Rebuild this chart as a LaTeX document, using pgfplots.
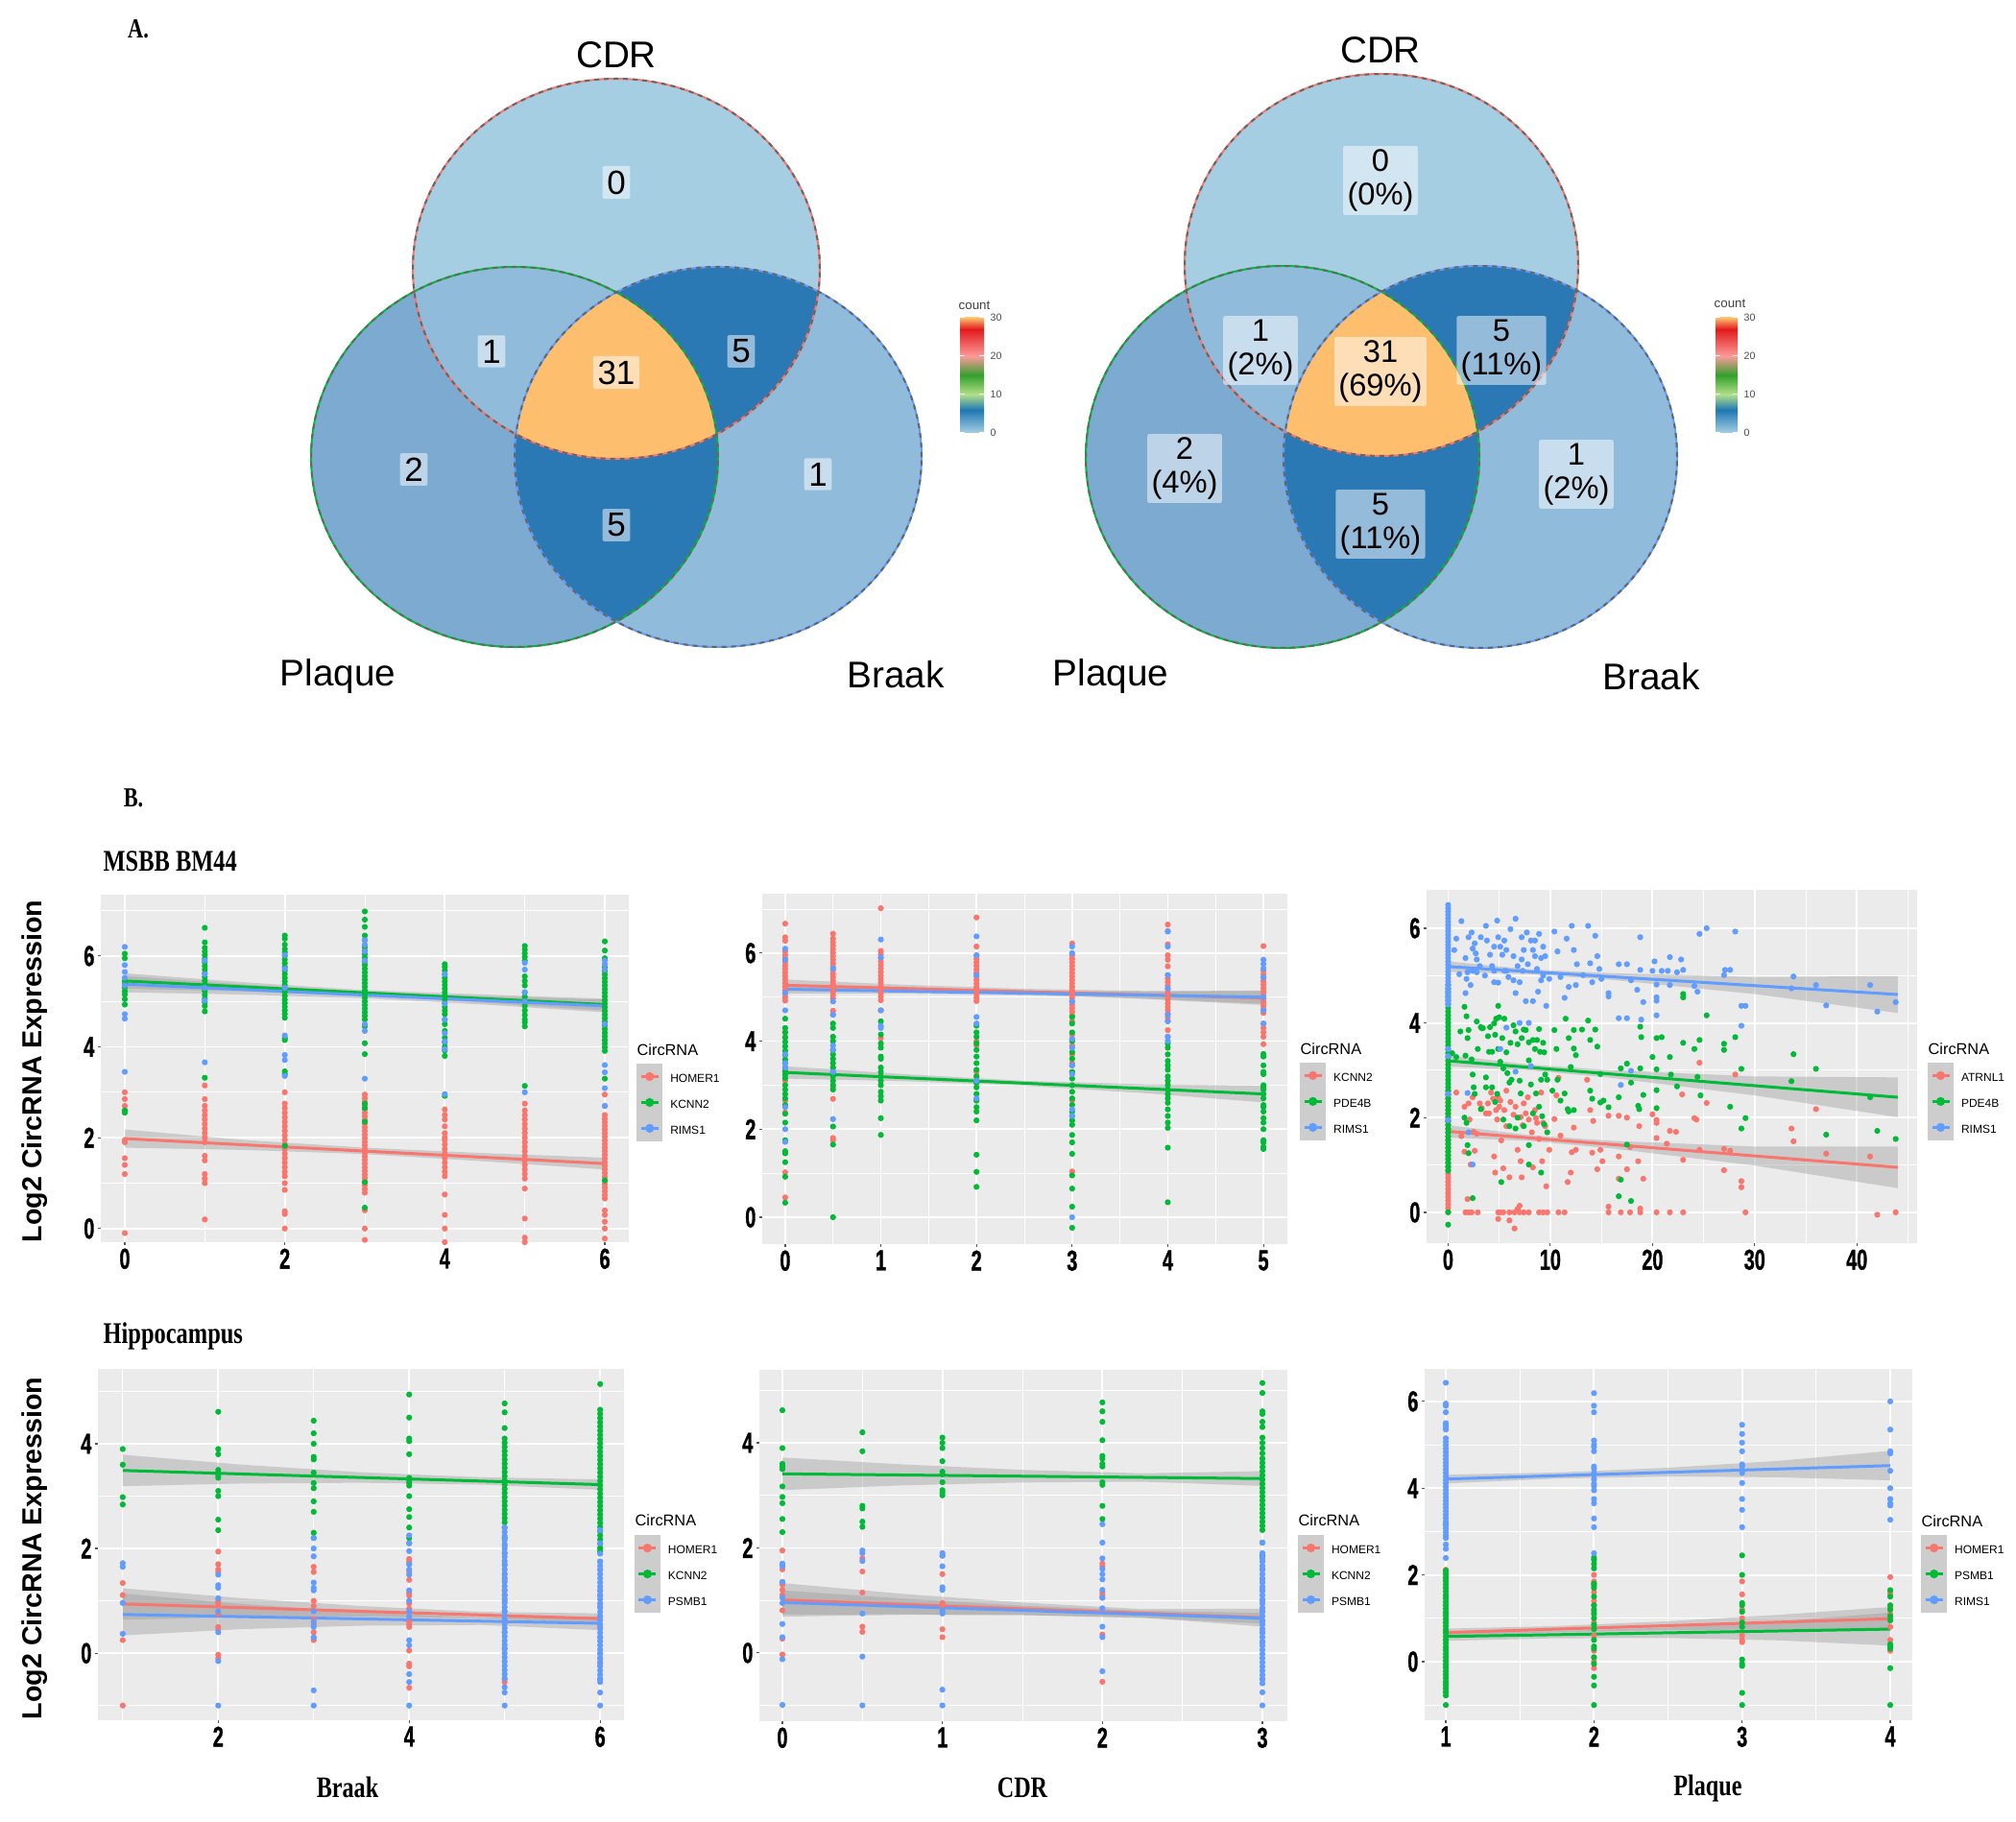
\documentclass[border=0pt]{standalone}
\usepackage{fontspec}
\setmainfont{Liberation Sans}
\newfontfamily\snarrow{Liberation Serif Bold}[FakeStretch=0.78]
\newfontfamily\tnarrow{Liberation Sans Bold}[FakeStretch=0.66, FakeBold=1.0]
\newfontfamily\lsbold{Liberation Sans Bold}
\usepackage{pgfplots}
\pgfplotsset{compat=1.18}
\definecolor{ggred}{HTML}{F8766D}
\definecolor{gggreen}{HTML}{00BA38}
\definecolor{ggblue}{HTML}{619CFF}
\definecolor{ggbg}{HTML}{EBEBEB}
\definecolor{bandc}{HTML}{999999}
\definecolor{keybg}{HTML}{CDCDCD}
\definecolor{vc0}{HTML}{A6CEE3}
\definecolor{vc1}{HTML}{91BBDB}
\definecolor{vc2}{HTML}{7CAAD1}
\definecolor{vc5}{HTML}{2A79B5}
\definecolor{vc31}{HTML}{FDBE6E}
\definecolor{cbA}{HTML}{A6CEE3}
\definecolor{cbB}{HTML}{1F78B4}
\definecolor{cbC}{HTML}{B2DF8A}
\definecolor{cbD}{HTML}{33A02C}
\definecolor{cbE}{HTML}{FB9A99}
\definecolor{cbF}{HTML}{E31A1C}
\definecolor{cbG}{HTML}{FDBF6F}
\pgfplotsset{
  ggpanel/.style={
    scale only axis, anchor=north west,
    axis background/.style={fill=ggbg},
    axis line style={draw=none},
    tick pos=left,
    xmajorgrids, ymajorgrids, xminorgrids, yminorgrids,
    major grid style={white, line width=0.55pt},
    minor grid style={white, line width=0.28pt},
    tick align=outside, major tick length=1pt, minor tick length=0pt,
    tick style={black!65, line width=0.35pt},
    ticklabel style={font=\tnarrow\fontsize{9}{9}\selectfont, inner sep=0.8pt},
    /pgf/number format/assume math mode=true,
    legend cell align=left,
    legend image code/.code={
      \fill[keybg] (0pt,-2.4pt) rectangle (7.2pt,4.8pt);
      \draw[##1] (0.9pt,1.2pt) -- (6.3pt,1.2pt);
      \fill[##1] (3.6pt,1.2pt) circle (0.9pt);
    },
    legend style={draw=none, fill=none, anchor=north west, inner sep=0pt, outer sep=0pt,
      row sep=0pt, font=\fontsize{3.6}{3.6}\selectfont,
      nodes={inner sep=0pt, outer sep=0pt},
      /tikz/every odd column/.append style={column sep=2.4pt}},
  },
  pts/.style={only marks, mark=*, mark size=0.72pt, mark options={draw=none}, forget plot},
  band/.style={fill=bandc, fill opacity=0.4, draw=none, forget plot},
}
\begin{document}
\begin{tikzpicture}
\useasboundingbox (0pt,0pt) rectangle (630pt,569.4pt);
% ================= canvas: Venn diagrams and free text =================
\begin{axis}[at={(0pt,0pt)}, anchor=south west, scale only axis, width=630pt, height=569.4pt,
  xmin=0, xmax=2100, ymin=0, ymax=1898, y dir=reverse, axis lines=none, xtick=\empty, ytick=\empty, clip=false]
% ---- left Venn ----
\fill[vc0] (642,280) ellipse [x radius=63.6pt, y radius=59.4pt];
\fill[vc2] (536,476) ellipse [x radius=63.6pt, y radius=59.4pt];
\fill[vc1] (748,476) ellipse [x radius=63.6pt, y radius=59.4pt];
\begin{scope}
\clip (642,280) ellipse [x radius=63.6pt, y radius=59.4pt];
\fill[vc1] (536,476) ellipse [x radius=63.6pt, y radius=59.4pt];
\fill[vc5] (748,476) ellipse [x radius=63.6pt, y radius=59.4pt];
\end{scope}
\begin{scope}
\clip (536,476) ellipse [x radius=63.6pt, y radius=59.4pt];
\fill[vc5] (748,476) ellipse [x radius=63.6pt, y radius=59.4pt];
\end{scope}
\begin{scope}
\clip (642,280) ellipse [x radius=63.6pt, y radius=59.4pt];
\clip (536,476) ellipse [x radius=63.6pt, y radius=59.4pt];
\fill[vc31] (748,476) ellipse [x radius=63.6pt, y radius=59.4pt];
\end{scope}
\draw[ggred, line width=0.6pt] (642,280) ellipse [x radius=63.6pt, y radius=59.4pt];
\draw[gggreen, line width=0.6pt] (536,476) ellipse [x radius=63.6pt, y radius=59.4pt];
\draw[ggblue, line width=0.6pt] (748,476) ellipse [x radius=63.6pt, y radius=59.4pt];
\draw[black!60, line width=0.6pt, dash pattern=on 1.5pt off 1.5pt] (642,280) ellipse [x radius=63.6pt, y radius=59.4pt];
\draw[black!60, line width=0.6pt, dash pattern=on 1.5pt off 1.5pt] (536,476) ellipse [x radius=63.6pt, y radius=59.4pt];
\draw[black!60, line width=0.6pt, dash pattern=on 1.5pt off 1.5pt] (748,476) ellipse [x radius=63.6pt, y radius=59.4pt];
\begin{scope}[every node/.style={fill=white, fill opacity=0.5, text opacity=1, rounded corners=0.6pt, inner xsep=1.4pt, inner ysep=1.4pt, font=\fontsize{10.5}{10.5}\selectfont}]
\node at (642,190) {0};
\node at (512,366) {1};
\node at (642,388) {31};
\node at (772,366) {5};
\node at (431,489) {2};
\node at (642,547) {5};
\node at (852,494) {1};
\end{scope}
\node[font=\fontsize{11.6}{11.6}\selectfont] at (642,57) {CDR};
\node[font=\fontsize{11.6}{11.6}\selectfont] at (352,705) {Plaque};
\node[font=\fontsize{11.6}{11.6}\selectfont] at (933,703) {Braak};
% colour bar left
\shade[bottom color=cbA, top color=cbB] (1000,451) rectangle (1025,427);
\shade[bottom color=cbB, top color=cbC] (1000,427) rectangle (1025,411);
\shade[bottom color=cbC, top color=cbD] (1000,411) rectangle (1025,391);
\shade[bottom color=cbD, top color=cbE] (1000,391) rectangle (1025,371);
\shade[bottom color=cbE, top color=cbF] (1000,371) rectangle (1025,343);
\shade[bottom color=cbF, top color=cbG] (1000,343) rectangle (1025,331);
\draw[white, line width=0.3pt] (1000,331) -- (1005,331) (1020,331) -- (1025,331);
\draw[white, line width=0.3pt] (1000,371) -- (1005,371) (1020,371) -- (1025,371);
\draw[white, line width=0.3pt] (1000,411) -- (1005,411) (1020,411) -- (1025,411);
\draw[white, line width=0.3pt] (1000,451) -- (1005,451) (1020,451) -- (1025,451);
\node[anchor=west, inner sep=0pt, font=\fontsize{4}{4}\selectfont, text=black!75] at (998,318) {count};
\begin{scope}[every node/.style={anchor=west, inner sep=0pt, font=\fontsize{3.2}{3.2}\selectfont, text=black!70}]
\node at (1031,331) {30}; \node at (1031,371) {20}; \node at (1031,411) {10}; \node at (1031,451) {0};
\end{scope}
% ---- right Venn ----
\fill[vc0] (1439,276) ellipse [x radius=61.5pt, y radius=59.7pt];
\fill[vc2] (1336,476) ellipse [x radius=61.5pt, y radius=59.7pt];
\fill[vc1] (1542,476) ellipse [x radius=61.5pt, y radius=59.7pt];
\begin{scope}
\clip (1439,276) ellipse [x radius=61.5pt, y radius=59.7pt];
\fill[vc1] (1336,476) ellipse [x radius=61.5pt, y radius=59.7pt];
\fill[vc5] (1542,476) ellipse [x radius=61.5pt, y radius=59.7pt];
\end{scope}
\begin{scope}
\clip (1336,476) ellipse [x radius=61.5pt, y radius=59.7pt];
\fill[vc5] (1542,476) ellipse [x radius=61.5pt, y radius=59.7pt];
\end{scope}
\begin{scope}
\clip (1439,276) ellipse [x radius=61.5pt, y radius=59.7pt];
\clip (1336,476) ellipse [x radius=61.5pt, y radius=59.7pt];
\fill[vc31] (1542,476) ellipse [x radius=61.5pt, y radius=59.7pt];
\end{scope}
\draw[ggred, line width=0.6pt] (1439,276) ellipse [x radius=61.5pt, y radius=59.7pt];
\draw[gggreen, line width=0.6pt] (1336,476) ellipse [x radius=61.5pt, y radius=59.7pt];
\draw[ggblue, line width=0.6pt] (1542,476) ellipse [x radius=61.5pt, y radius=59.7pt];
\draw[black!60, line width=0.6pt, dash pattern=on 1.5pt off 1.5pt] (1439,276) ellipse [x radius=61.5pt, y radius=59.7pt];
\draw[black!60, line width=0.6pt, dash pattern=on 1.5pt off 1.5pt] (1336,476) ellipse [x radius=61.5pt, y radius=59.7pt];
\draw[black!60, line width=0.6pt, dash pattern=on 1.5pt off 1.5pt] (1542,476) ellipse [x radius=61.5pt, y radius=59.7pt];
\begin{scope}[every node/.style={fill=white, fill opacity=0.5, text opacity=1, rounded corners=0.6pt, inner xsep=1.3pt, inner ysep=1.2pt, align=center, font=\fontsize{9.8}{10.3}\selectfont}]
\node at (1438,188) {0\\(0\%)};
\node at (1313,365) {1\\(2\%)};
\node at (1438,387) {31\\(69\%)};
\node at (1564,365) {5\\(11\%)};
\node at (1234,488) {2\\(4\%)};
\node at (1438,546) {5\\(11\%)};
\node at (1642,494) {1\\(2\%)};
\end{scope}
\node[font=\fontsize{11.6}{11.6}\selectfont] at (1438,52) {CDR};
\node[font=\fontsize{11.6}{11.6}\selectfont] at (1157,705) {Plaque};
\node[font=\fontsize{11.6}{11.6}\selectfont] at (1720,705) {Braak};
% colour bar right
\shade[bottom color=cbA, top color=cbB] (1787,451) rectangle (1810,427);
\shade[bottom color=cbB, top color=cbC] (1787,427) rectangle (1810,411);
\shade[bottom color=cbC, top color=cbD] (1787,411) rectangle (1810,391);
\shade[bottom color=cbD, top color=cbE] (1787,391) rectangle (1810,371);
\shade[bottom color=cbE, top color=cbF] (1787,371) rectangle (1810,343);
\shade[bottom color=cbF, top color=cbG] (1787,343) rectangle (1810,331);
\draw[white, line width=0.3pt] (1787,331) -- (1792,331) (1805,331) -- (1810,331);
\draw[white, line width=0.3pt] (1787,371) -- (1792,371) (1805,371) -- (1810,371);
\draw[white, line width=0.3pt] (1787,411) -- (1792,411) (1805,411) -- (1810,411);
\draw[white, line width=0.3pt] (1787,451) -- (1792,451) (1805,451) -- (1810,451);
\node[anchor=west, inner sep=0pt, font=\fontsize{4}{4}\selectfont, text=black!75] at (1785,316) {count};
\begin{scope}[every node/.style={anchor=west, inner sep=0pt, font=\fontsize{3.2}{3.2}\selectfont, text=black!70}]
\node at (1816,331) {30}; \node at (1816,371) {20}; \node at (1816,411) {10}; \node at (1816,451) {0};
\end{scope}
% ---- free text ----
\node[font=\snarrow\fontsize{8.6}{8.6}\selectfont] at (144,30) {A.};
\node[font=\snarrow\fontsize{8.6}{8.6}\selectfont] at (139,831) {B.};
\node[anchor=west, inner sep=0pt, font=\snarrow\fontsize{9.4}{9.4}\selectfont] at (107,897) {MSBB BM44};
\node[anchor=west, inner sep=0pt, font=\snarrow\fontsize{9.4}{9.4}\selectfont] at (107,1392) {Hippocampus};
\node[rotate=90, font=\lsbold\fontsize{8.6}{8.6}\selectfont] at (36,1116) {Log2 CircRNA Expression};
\node[rotate=90, font=\lsbold\fontsize{8.6}{8.6}\selectfont] at (36,1613) {Log2 CircRNA Expression};
\node[font=\snarrow\fontsize{9.3}{9.3}\selectfont] at (362,1862) {Braak};
\node[font=\snarrow\fontsize{9.3}{9.3}\selectfont] at (1065,1862) {CDR};
\node[font=\snarrow\fontsize{9.3}{9.3}\selectfont] at (1779,1863) {Plaque};
\node[font=\snarrow\fontsize{5.2}{5.2}\selectfont] at (1170,1458) {0};
\begin{scope}[every node/.style={anchor=west, inner sep=0pt, font=\fontsize{4.9}{4.9}\selectfont}]
\node at (663,1094) {CircRNA};
\node at (1354,1093) {CircRNA};
\node at (2008,1093) {CircRNA};
\node at (661,1584) {CircRNA};
\node at (1352,1584) {CircRNA};
\node at (2001,1585) {CircRNA};
\end{scope}
\end{axis}
% ================= Panel 1: MSBB Braak =================
\begin{axis}[ggpanel, at={(31.5pt,289.8pt)}, width=165pt, height=108.6pt,
  xmin=-0.3, xmax=6.3, ymin=-0.3, ymax=7.35,
  xtick={0,2,4,6}, minor xtick={1,3,5}, ytick={0,2,4,6}, minor ytick={1,3,5,7},
  legend style={at={(1.015,0.514)}}]
\addplot[pts, ggred] coordinates {(0,3.0)(0,2.85)(0,2.7)(0,2.6)(0,1.95)(0,1.9)(0,1.55)(0,1.4)(0,1.2)(0,-0.1)
(1,3.15)(1,2.85)(1,2.7)(1,2.6)(1,2.5)(1,2.4)(1,2.3)(1,2.2)(1,2.1)(1,2.0)(1,1.9)(1,1.6)(1,1.5)(1,1.2)(1,1.1)(1,1.0)(1,0.2)
(2,3.0)(2,2.75)(2,2.65)(2,2.55)(2,2.45)(2,2.35)(2,2.25)(2,2.15)(2,2.05)(2,1.95)(2,1.85)(2,1.75)(2,1.65)(2,1.55)(2,1.45)(2,1.35)(2,1.25)(2,1.15)(2,1.0)(2,0.85)(2,0.38)(2,0.32)(2,0.0)
(3,2.95)(3,2.87)(3,2.79)(3,2.71)(3,2.63)(3,2.55)(3,2.47)(3,2.39)(3,2.31)(3,2.23)(3,2.15)(3,2.07)(3,1.99)(3,1.91)(3,1.83)(3,1.75)(3,1.67)(3,1.59)(3,1.51)(3,1.43)(3,1.35)(3,1.27)(3,1.19)(3,1.11)(3,1.03)(3,0.95)(3,0.87)(3,0.79)(3,0.4)(3,0.0)(3,-0.25)
(4,2.62)(4,2.5)(4,2.4)(4,2.25)(4,2.1)(4,2.0)(4,1.95)(4,1.85)(4,1.75)(4,1.65)(4,1.55)(4,1.45)(4,1.35)(4,1.25)(4,1.15)(4,0.75)(4,0.3)(4,0.0)(4,-0.3)
(5,2.75)(5,2.6)(5,2.5)(5,2.4)(5,2.3)(5,2.2)(5,2.1)(5,2.0)(5,1.9)(5,1.8)(5,1.7)(5,1.6)(5,1.5)(5,1.4)(5,1.3)(5,1.2)(5,1.1)(5,0.88)(5,0.22)(5,-0.2)(5,-0.3)
(6,2.95)(6,2.7)(6,2.5)(6,2.42)(6,2.34)(6,2.26)(6,2.18)(6,2.1)(6,2.02)(6,1.94)(6,1.86)(6,1.78)(6,1.7)(6,1.62)(6,1.54)(6,1.46)(6,1.38)(6,1.3)(6,1.22)(6,1.14)(6,1.06)(6,0.98)(6,0.9)(6,0.82)(6,0.74)(6,0.66)(6,0.4)(6,0.3)(6,0.15)(6,0.0)(6,-0.22)};
\addplot[pts, gggreen] coordinates {(0,6.05)(0,5.95)(0,5.45)(0,5.38)(0,5.3)(0,5.22)(0,5.15)(0,5.05)(0,4.93)(0,2.6)(0,2.55)
(1,6.62)(1,6.3)(1,6.18)(1,6.1)(1,6.02)(1,5.94)(1,5.86)(1,5.78)(1,5.7)(1,5.62)(1,5.54)(1,5.46)(1,5.38)(1,5.3)(1,5.22)(1,5.14)(1,5.06)(1,4.98)(1,4.9)(1,4.78)(1,3.32)
(2,6.45)(2,6.38)(2,6.25)(2,6.15)(2,6.08)(2,6.0)(2,5.92)(2,5.84)(2,5.76)(2,5.68)(2,5.6)(2,5.52)(2,5.44)(2,5.36)(2,5.28)(2,5.2)(2,5.12)(2,5.04)(2,4.96)(2,4.88)(2,4.8)(2,4.72)(2,4.64)(2,4.2)(2,4.15)(2,3.46)(2,3.4)(2,1.82)
(3,6.98)(3,6.8)(3,6.64)(3,6.45)(3,6.35)(3,6.2)(3,6.12)(3,6.04)(3,5.96)(3,5.88)(3,5.8)(3,5.72)(3,5.64)(3,5.56)(3,5.48)(3,5.4)(3,5.32)(3,5.24)(3,5.16)(3,5.08)(3,5.0)(3,4.92)(3,4.84)(3,4.76)(3,4.68)(3,4.6)(3,4.45)(3,4.08)(3,3.84)(3,2.75)(3,2.65)(3,2.35)(3,1.02)(3,0.46)
(4,5.82)(4,5.76)(4,5.68)(4,5.6)(4,5.52)(4,5.44)(4,5.36)(4,5.28)(4,5.2)(4,5.12)(4,5.04)(4,4.96)(4,4.88)(4,4.8)(4,4.72)(4,4.6)(4,4.5)(4,4.35)(4,4.2)(4,4.1)(4,4.0)(4,3.92)(4,3.8)(4,2.92)
(5,6.22)(5,6.14)(5,6.06)(5,5.98)(5,5.9)(5,5.55)(5,5.45)(5,5.35)(5,5.2)(5,5.1)(5,5.0)(5,4.9)(5,4.8)(5,4.7)(5,4.6)(5,4.54)(5,4.45)(5,3.14)
(6,6.32)(6,6.12)(6,5.95)(6,5.75)(6,5.67)(6,5.59)(6,5.51)(6,5.43)(6,5.35)(6,5.27)(6,5.19)(6,5.11)(6,5.03)(6,4.95)(6,4.87)(6,4.79)(6,4.71)(6,4.63)(6,4.55)(6,4.47)(6,4.39)(6,4.31)(6,4.23)(6,4.15)(6,4.07)(6,3.99)(6,3.91)(6,3.3)(6,1.06)};
\addplot[pts, ggblue] coordinates {(0,6.2)(0,5.8)(0,5.65)(0,5.52)(0,5.35)(0,4.72)(0,4.62)(0,3.45)
(1,5.9)(1,5.6)(1,5.3)(1,5.02)(1,3.66)
(2,6.02)(2,5.72)(2,5.3)(2,4.25)(2,3.82)(2,3.71)(2,3.36)
(3,6.35)(3,6.25)(3,6.1)(3,5.9)(3,4.5)(3,4.35)(3,3.3)
(4,5.6)(4,4.95)(4,4.6)(4,4.3)(4,4.12)(4,3.95)(4,2.96)
(5,5.85)(5,5.7)(5,5.2)(5,5.0)(5,3.0)
(6,5.9)(6,5.82)(6,5.7)(6,4.5)(6,3.6)(6,3.44)(6,3.09)(6,2.7)};
\addplot[band] coordinates {(0,2.18)(1.5,1.95)(3,1.78)(4.5,1.66)(6,1.56)(6,1.30)(4.5,1.48)(3,1.64)(1.5,1.73)(0,1.78)} --cycle;
\addplot[band] coordinates {(0,5.62)(1.5,5.42)(3,5.25)(4.5,5.15)(6,5.06)(6,4.80)(4.5,4.97)(3,5.13)(1.5,5.22)(0,5.28)} --cycle;
\addplot[band] coordinates {(0,5.56)(1.5,5.37)(3,5.21)(4.5,5.11)(6,5.04)(6,4.76)(4.5,4.93)(3,5.07)(1.5,5.15)(0,5.20)} --cycle;
\addplot[ggred, line width=0.9pt, mark=none] coordinates {(0,1.98)(6,1.43)}; \addlegendentry{HOMER1}
\addplot[gggreen, line width=0.9pt, mark=none] coordinates {(0,5.45)(6,4.93)}; \addlegendentry{KCNN2}
\addplot[ggblue, line width=0.9pt, mark=none] coordinates {(0,5.38)(6,4.90)}; \addlegendentry{RIMS1}
\end{axis}
% ================= Panel 2: MSBB CDR =================
\begin{axis}[ggpanel, at={(238.2pt,290.1pt)}, width=164.1pt, height=109.5pt,
  xmin=-0.24, xmax=5.25, ymin=-0.61, ymax=7.35,
  xtick={0,1,2,3,4,5}, minor xtick={0.5,1.5,2.5,3.5,4.5}, ytick={0,2,4,6}, minor ytick={1,3,5,7},
  legend style={at={(1.024,0.518)}}]
\addplot[pts, ggred] coordinates {(0,6.67)(0,6.36)(0,6.28)(0,6.04)(0,5.96)(0,5.88)(0,5.8)(0,5.72)(0,5.64)(0,5.56)(0,5.48)(0,5.4)(0,5.32)(0,5.24)(0,5.16)(0,5.08)(0,5.0)(0,4.92)(0,4.2)(0,4.1)(0,3.3)(0,3.1)(0,2.65)(0,2.38)(0,1.02)(0,0.45)
(0.5,6.44)(0.5,6.33)(0.5,6.25)(0.5,6.17)(0.5,6.09)(0.5,6.01)(0.5,5.93)(0.5,5.85)(0.5,5.77)(0.5,5.69)(0.5,5.61)(0.5,5.53)(0.5,5.45)(0.5,5.37)(0.5,5.29)(0.5,5.21)(0.5,5.13)(0.5,5.05)(0.5,4.97)(0.5,4.69)(0.5,4.6)(0.5,3.4)(0.5,2.95)(0.5,2.69)(0.5,1.8)(0.5,1.75)
(1,7.02)(1,6.05)(1,5.97)(1,5.89)(1,5.81)(1,5.73)(1,5.65)(1,5.57)(1,5.49)(1,5.41)(1,5.33)(1,5.25)(1,5.17)(1,5.09)(1,5.01)(1,4.93)(1,4.7)(1,4.07)
(2,6.81)(2,6.15)(2,5.95)(2,5.87)(2,5.79)(2,5.71)(2,5.63)(2,5.55)(2,5.47)(2,5.39)(2,5.31)(2,5.23)(2,5.15)(2,5.07)(2,4.99)(2,4.91)(2,4.0)(2,3.9)(2,3.3)(2,3.2)(2,2.65)
(3,6.22)(3,5.95)(3,5.87)(3,5.79)(3,5.71)(3,5.63)(3,5.55)(3,5.47)(3,5.39)(3,5.31)(3,5.23)(3,5.15)(3,5.07)(3,4.99)(3,4.91)(3,4.83)(3,4.75)(3,4.67)(3,4.59)(3,4.45)(3,4.15)(3,4.05)(3,3.9)(3,3.7)(3,3.5)(3,3.3)(3,2.65)(3,1.04)
(4,6.65)(4,6.5)(4,6.2)(4,5.95)(4,5.85)(4,5.7)(4,5.5)(4,5.42)(4,5.34)(4,5.26)(4,5.18)(4,5.1)(4,5.02)(4,4.94)(4,4.86)(4,4.78)(4,4.7)(4,4.62)(4,4.54)(4,4.46)(4,4.25)(4,4.1)
(5,6.16)(5,5.6)(5,5.52)(5,5.44)(5,5.36)(5,5.28)(5,5.2)(5,5.12)(5,5.04)(5,4.96)(5,4.88)(5,4.8)(5,4.72)(5,4.64)(5,4.4)(5,4.3)(5,4.2)(5,4.1)(5,3.93)};
\addplot[pts, gggreen] coordinates {(0,4.51)(0,4.3)(0,4.2)(0,4.08)(0,3.98)(0,3.88)(0,3.78)(0,3.68)(0,3.58)(0,3.5)(0,3.4)(0,3.32)(0,3.24)(0,3.16)(0,3.0)(0,2.9)(0,2.8)(0,2.7)(0,2.55)(0,2.35)(0,2.15)(0,1.75)(0,1.5)(0,1.45)(0,1.25)(0,0.92)(0,0.33)
(0.5,4.4)(0.5,4.3)(0.5,4.1)(0.5,4.0)(0.5,3.8)(0.5,3.7)(0.5,3.6)(0.5,3.5)(0.5,3.4)(0.5,3.3)(0.5,3.2)(0.5,3.1)(0.5,3.0)(0.5,2.9)(0.5,2.06)(0.5,1.65)(0.5,0.0)
(1,4.45)(1,4.15)(1,3.95)(1,3.85)(1,3.65)(1,3.6)(1,3.4)(1,3.3)(1,3.2)(1,3.1)(1,3.0)(1,2.85)(1,2.75)(1,2.65)(1,2.25)(1,1.87)
(2,4.35)(2,4.2)(2,4.1)(2,3.95)(2,3.8)(2,3.65)(2,3.5)(2,3.35)(2,3.2)(2,3.05)(2,2.95)(2,2.8)(2,2.65)(2,2.5)(2,2.4)(2,2.2)(2,1.42)(2,1.03)(2,0.69)
(3,4.55)(3,4.4)(3,4.2)(3,4.0)(3,3.75)(3,3.6)(3,3.45)(3,3.3)(3,3.15)(3,3.0)(3,2.85)(3,2.7)(3,2.55)(3,2.4)(3,2.3)(3,2.2)(3,2.1)(3,1.87)(3,1.7)(3,1.44)(3,0.95)(3,0.65)(3,0.24)(3,-0.24)
(4,3.95)(4,3.85)(4,3.7)(4,3.55)(4,3.45)(4,3.35)(4,3.2)(4,3.1)(4,3.0)(4,2.9)(4,2.8)(4,2.7)(4,2.6)(4,2.45)(4,2.3)(4,2.15)(4,2.03)(4,1.58)(4,0.34)
(5,3.71)(5,3.65)(5,3.45)(5,3.3)(5,3.25)(5,3.0)(5,2.95)(5,2.9)(5,2.8)(5,2.7)(5,2.55)(5,2.5)(5,2.4)(5,2.25)(5,2.15)(5,2.0)(5,1.75)(5,1.7)(5,1.6)(5,1.55)};
\addplot[pts, ggblue] coordinates {(0,6.1)(0,5.85)(0,5.1)(0,4.7)(0,3.7)(0,3.5)(0,3.4)(0,2.5)(0,2.0)(0,1.71)
(0.5,5.65)(0.5,4.9)(0.5,4.6)(0.5,3.9)(0.5,3.8)(0.5,3.3)(0.5,2.23)
(1,6.31)(1,5.9)(1,4.7)(1,4.35)(1,4.3)
(2,6.38)(2,5.95)(2,5.5)(2,4.55)(2,4.4)(2,3.1)(2,2.7)
(3,6.15)(3,6.0)(3,4.9)(3,4.05)(3,3.85)(3,3.45)(3,3.25)(3,2.45)(3,2.3)(3,0.0)
(4,6.49)(4,6.15)(4,5.5)(4,5.2)(4,4.6)(4,4.45)(4,4.1)(4,4.0)
(5,5.85)(5,5.75)(5,5.65)(5,5.45)(5,5.0)(5,4.7)(5,4.4)};
\addplot[band] coordinates {(0,5.40)(1.25,5.28)(2.5,5.19)(3.75,5.14)(5,5.14)(5,4.82)(3.75,4.96)(2.5,5.07)(1.25,5.12)(0,5.14)} --cycle;
\addplot[band] coordinates {(0,3.43)(1.25,3.25)(2.5,3.10)(3.75,3.02)(5,2.99)(5,2.61)(3.75,2.82)(2.5,2.99)(1.25,3.09)(0,3.15)} --cycle;
\addplot[band] coordinates {(0,5.28)(1.25,5.20)(2.5,5.14)(3.75,5.13)(5,5.15)(5,4.85)(3.75,4.97)(2.5,5.04)(1.25,5.08)(0,5.08)} --cycle;
\addplot[ggred, line width=0.9pt, mark=none] coordinates {(0,5.27)(5,4.98)}; \addlegendentry{KCNN2}
\addplot[gggreen, line width=0.9pt, mark=none] coordinates {(0,3.29)(5,2.80)}; \addlegendentry{PDE4B}
\addplot[ggblue, line width=0.9pt, mark=none] coordinates {(0,5.18)(5,5.00)}; \addlegendentry{RIMS1}
\end{axis}
% ================= Panel 3: MSBB Plaque =================
\begin{axis}[ggpanel, at={(445.8pt,291.3pt)}, width=153.3pt, height=110.4pt,
  xmin=-2.11, xmax=45.9, ymin=-0.65, ymax=6.81,
  xtick={0,10,20,30,40}, minor xtick={5,15,25,35,45}, ytick={0,2,4,6}, minor ytick={1,3,5},
  legend style={at={(1.0215,0.511)}}]
\addplot[pts, ggred] coordinates {(0,2.57)(0,2.49)(0,2.41)(0,2.33)(0,2.25)(0,2.17)(0,2.09)(0,2.01)(0,1.93)(0,1.85)(0,1.77)(0,1.69)(0,1.61)(0,1.53)(0,1.45)(0,1.37)(0,1.29)(0,1.21)(0,1.13)(0,1.05)(0,0.97)(0,0.89)(0,0.81)(0,0.73)(0,0.65)(0,0.57)(0,0.49)(0,0.41)(0,0.33)(0,0.25)(0,0.17)(0,0.09)(0,0.01)
(0.8,2.53)(1.3,1.61)(1.6,2.23)(1.6,1.28)(1.9,0.28)(2.0,2.3)(2.1,1.96)(2.2,1.01)(2.4,2.43)(2.5,1.7)(2.6,1.3)(2.8,1.66)(3.1,2.3)(3.3,2.2)(3.7,2.09)(3.9,2.3)(4.0,2.09)(4.2,2.53)(4.4,2.4)(4.5,1.18)(4.6,0.84)(4.7,2.16)(4.8,1.96)(4.9,2.43)(5.0,2.23)(5.1,2.36)(5.2,1.52)(5.4,0.93)(5.5,2.16)(5.7,2.57)(5.7,1.82)(6.0,0.74)(6.1,2.33)(6.4,2.06)(6.6,2.23)(6.8,1.32)(7.1,1.08)(7.1,2.01)(7.2,0.74)(7.3,1.84)(7.4,2.3)(7.6,2.09)(7.8,2.43)(7.9,1.96)(8.2,1.69)(8.3,0.95)(8.5,2.16)(8.6,1.99)(8.7,1.89)(8.9,1.55)(9.1,2.53)(9.2,1.08)(9.3,1.89)(9.5,1.82)(9.6,0.55)(9.9,1.32)(10.4,1.97)(10.6,2.47)(10.8,2.84)(11.0,1.62)(11.7,0.64)(12.0,0.84)(12.1,1.27)(12.3,1.79)(12.5,1.32)(13.6,2.8)(13.9,2.16)(14.1,1.26)(14.2,1.93)(14.6,0.91)(14.9,1.32)(15.1,1.08)
(1.7,0)(2.0,0)(2.3,0)(2.9,0)(4.9,0)(5.1,0)(5.4,0)(6.0,0)(6.5,0)(7.0,0)(7.4,0)(7.9,0)(8.9,0)(9.3,0)(9.7,0)(10.8,0)(11.4,0)(15.7,0)(16.9,0)(17.8,0)(18.8,0)(20.4,0)(21.7,0)(23.0,0)(29.1,0)(43.8,0)
(4.9,-0.14)(6.0,-0.17)(6.5,-0.34)(6.8,0.07)(7.0,0.14)(18.8,0.08)(15.7,0.12)(42.0,-0.05)
(15.7,2.04)(16.7,2.04)(17.5,2.0)(16.7,0.71)(16.7,1.18)(17.8,1.38)(17.5,0.91)(18.6,1.08)(18.7,1.82)(19.1,0.71)(20.0,2.07)(20.4,1.95)(20.4,1.57)(20.4,1.89)(21.4,1.45)(21.7,1.72)(22.3,1.7)(22.9,2.49)(23.0,1.11)(24.1,1.99)(24.3,1.96)(24.6,3.16)(25.3,2.31)(24.6,1.32)(27.0,0.89)(27.0,1.34)(27.6,1.3)(28.1,2.91)(28.7,0.66)(28.7,0.53)(33.6,1.77)(33.8,1.5)(36.0,2.18)(37.0,1.24)(41.3,1.18)};
\addplot[pts, gggreen] coordinates {(0,4.8)(0,4.72)(0,4.64)(0,4.56)(0,4.48)(0,4.4)(0,4.32)(0,4.24)(0,4.16)(0,4.08)(0,4.0)(0,3.92)(0,3.84)(0,3.76)(0,3.68)(0,3.6)(0,3.52)(0,3.44)(0,3.36)(0,3.28)(0,3.2)(0,3.12)(0,3.04)(0,2.96)(0,2.88)(0,2.8)(0,2.72)(0,2.64)(0,2.56)(0,2.48)(0,2.4)(0,2.32)(0,2.24)(0,2.16)(0,2.08)(0,2.0)(0,1.92)(0,1.84)(0,1.76)(0,1.68)(0,1.6)(0,1.52)(0,1.44)(0,1.36)(0,1.28)(0,1.2)(0,1.12)(0,1.04)(0,0.96)(0,0.88)(0,0.0)(0,-0.26)
(0.4,3.36)(0.8,3.28)(1.2,3.82)(1.6,4.34)(1.8,4.14)(1.9,3.68)(1.7,3.31)(2.0,3.85)(2.3,3.23)(2.4,2.91)(2.5,2.64)(2.8,4.03)(2.9,3.45)(3.2,3.91)(3.3,3.89)(3.4,3.89)(3.7,2.85)(3.9,3.72)(4.0,3.39)(4.1,3.91)(4.3,3.39)(4.5,3.99)(4.6,3.75)(4.7,4.09)(4.9,4.36)(4.9,3.45)(5.0,4.12)(5.1,3.18)(5.3,3.68)(5.4,3.04)(5.5,4.09)(5.7,3.38)(5.8,2.94)(6.0,2.74)(6.1,3.58)(6.2,2.8)(6.4,3.95)(6.6,3.82)(6.8,3.55)(7.0,2.78)(7.2,3.68)(7.4,3.86)(7.6,3.85)(7.9,3.59)(7.9,3.21)(8.1,2.7)(8.3,3.64)(8.5,3.45)(8.6,2.51)(8.7,3.64)(8.9,3.87)(9.0,3.39)(9.1,2.8)(9.3,3.58)(9.4,3.38)(9.5,2.91)(9.7,2.8)(10.4,3.85)(10.6,3.45)(10.7,2.8)(11.0,2.36)(11.4,2.51)(11.5,4.09)(11.7,2.18)(11.8,3.68)(12.0,3.07)(12.3,3.46)(12.3,3.85)(12.5,3.32)(13.1,3.86)(13.7,4.05)(13.9,3.64)(14.1,2.4)(14.4,3.86)(14.6,3.5)(14.9,2.92)(15.2,2.36)
(1.6,2.0)(1.8,1.89)(1.9,1.42)(2.0,1.25)(2.4,0.3)(2.6,2.5)(3.2,2.18)(3.7,2.64)(4.3,2.64)(4.6,2.33)(4.8,2.5)(5.2,0.64)(5.4,1.96)(6.0,1.82)(6.6,1.77)(6.8,2.0)(7.1,2.51)(7.4,1.82)(7.9,1.42)(7.9,1.01)(8.3,2.09)(8.9,2.23)(9.1,0.84)(9.2,2.03)(9.4,1.86)(9.7,1.69)(10.2,2.57)(11.8,2.13)(12.3,2.16)(13.9,2.57)(14.9,2.32)
(15.7,2.22)(16.7,2.43)(16.9,3.04)(17.5,3.14)(16.7,0.34)(16.9,0.69)(17.9,0.24)(17.5,1.43)(17.9,2.74)(18.6,2.25)(18.7,2.18)(18.8,3.04)(18.8,3.92)(18.9,3.7)(19.1,2.48)(20.0,3.28)(20.4,3.02)(20.4,2.58)(20.4,2.2)(20.4,3.68)(20.9,3.7)(21.7,3.28)(21.8,2.91)(22.4,2.66)(23.0,4.61)(23.0,4.54)(23.0,3.58)(24.1,3.45)(24.4,2.86)(24.6,3.64)(24.7,2.47)(25.3,4.16)(27.0,3.56)(27.0,3.43)(27.6,2.23)(28.1,3.7)(28.7,3.03)(28.7,1.77)(29.1,1.99)(33.6,2.77)(33.8,3.34)(36.0,3.03)(37.0,1.64)(41.3,2.43)(42.0,1.72)(43.8,1.55)};
\addplot[pts, ggblue] coordinates {(0,6.49)(0,6.42)(0,6.35)(0,6.28)(0,6.21)(0,6.14)(0,6.07)(0,6.0)(0,5.93)(0,5.86)(0,5.79)(0,5.72)(0,5.65)(0,5.58)(0,5.51)(0,5.44)(0,5.37)(0,5.3)(0,5.23)(0,5.16)(0,5.09)(0,5.02)(0,4.95)(0,4.88)(0,4.81)(0,4.74)(0,4.67)(0,4.6)(0,4.53)(0,4.46)(0,4.39)(0,3.45)(0,3.3)(0,2.5)(0,1.95)
(1.3,6.15)(0.8,5.78)(1.7,5.37)(2.0,5.81)(2.3,5.91)(2.4,5.57)(2.6,5.68)(2.8,5.34)(1.9,5.07)(2.2,4.8)(1.7,4.63)(3.7,6.05)(3.8,5.74)(4.1,5.44)(4.3,5.2)(4.5,4.86)(4.8,6.16)(4.9,5.81)(5.1,5.61)(5.3,5.44)(5.5,5.74)(5.7,5.1)(5.9,4.97)(6.4,5.41)(6.6,6.2)(6.8,5.2)(7.0,4.86)(7.2,5.34)(7.4,5.54)(7.7,5.91)(7.8,5.24)(8.1,5.74)(8.3,5.54)(8.5,5.74)(8.7,5.14)(8.9,5.88)(9.1,5.37)(9.3,5.0)(9.5,5.41)(9.6,4.36)(9.9,4.93)(10.4,5.93)(10.7,5.51)(11.0,4.97)(11.4,4.53)(11.6,5.78)(11.8,4.76)(12.1,6.05)(12.3,5.54)(12.5,4.8)(12.6,5.24)(13.2,5.01)(13.7,6.05)(13.9,5.26)(14.4,5.84)(14.6,5.41)(14.8,5.14)(14.1,4.86)(15.0,4.93)
(1.8,4.93)(2.4,5.1)(3.1,5.2)(3.6,5.0)(4.5,5.1)(4.9,4.85)(5.5,5.1)(6.4,4.9)(6.6,4.63)(7.3,5.1)(7.6,4.46)(8.3,4.46)(8.8,4.66)(9.1,4.9)(9.3,5.61)(7.2,5.81)(4.5,5.61)(2.8,5.07)(1.1,5.03)(0.6,5.54)(2.7,5.47)(3.2,5.81)(5.7,5.54)(8.5,5.41)(6.1,5.98)
(15.7,4.63)(15.7,4.56)(16.7,5.24)(16.7,4.1)(17.5,5.24)(17.5,4.1)(17.9,4.9)(18.5,4.7)(18.8,5.12)(18.8,5.81)(18.9,4.07)(19.1,4.44)(20.0,5.1)(20.2,5.3)(20.4,4.81)(20.4,4.54)(20.4,4.47)(20.4,4.16)(20.9,5.1)(21.5,5.1)(21.7,5.39)(21.7,4.8)(22.4,5.07)(22.8,5.34)(23.0,5.12)(24.1,4.78)(24.4,4.66)(24.6,5.88)(25.3,6.0)(27.0,5.01)(27.1,5.12)(27.6,5.12)(28.1,5.93)(28.7,4.36)(29.1,4.36)(28.7,3.94)(33.8,4.98)(33.6,4.73)(36.0,4.8)(37.0,4.37)(41.3,4.8)(42.0,4.24)(43.8,4.44)
(5.7,3.9)(7.0,4.0)(7.9,4.0)(8.1,3.09)(6.6,2.97)(1.9,2.52)(2.4,1.01)(2.0,1.69)(5.1,3.45)(16.9,2.69)(17.9,2.99)};
\addplot[band] coordinates {(0,1.84)(8,1.63)(16,1.51)(30,1.39)(44,1.39)(44,0.51)(30,0.99)(16,1.35)(8,1.51)(0,1.58)} --cycle;
\addplot[band] coordinates {(0,3.32)(8,3.12)(16,3.00)(30,2.87)(44,2.85)(44,2.01)(30,2.47)(16,2.84)(8,3.00)(0,3.08)} --cycle;
\addplot[band] coordinates {(0,5.30)(8,5.13)(16,5.05)(30,4.97)(44,4.99)(44,4.21)(30,4.61)(16,4.91)(8,5.03)(0,5.08)} --cycle;
\addplot[ggred, line width=0.9pt, mark=none] coordinates {(0,1.71)(44,0.95)}; \addlegendentry{ATRNL1}
\addplot[gggreen, line width=0.9pt, mark=none] coordinates {(0,3.20)(44,2.43)}; \addlegendentry{PDE4B}
\addplot[ggblue, line width=0.9pt, mark=none] coordinates {(0,5.19)(44,4.60)}; \addlegendentry{RIMS1}
\end{axis}
% ================= Panel 4: Hippocampus Braak =================
\begin{axis}[ggpanel, at={(30.6pt,141.6pt)}, width=164.4pt, height=109.8pt,
  xmin=0.74, xmax=6.25, ymin=-1.28, ymax=5.43,
  xtick={2,4,6}, minor xtick={1,3,5}, ytick={0,2,4}, minor ytick={-1,1,3,5},
  legend style={at={(1.020,0.527)}}]
\addplot[pts, ggred] coordinates {(1,1.34)(1,1.11)(1,0.25)(1,-1.0)
(2,1.94)(2,1.7)(2,1.6)(2,1.55)(2,1.0)(2,0.95)(2,0.75)(2,0.5)(2,0.45)(2,-0.03)(2,-0.1)
(3,1.65)(3,1.55)(3,1.0)(3,0.9)(3,0.65)(3,0.55)(3,0.4)(3,0.3)(3,0.25)
(4,1.8)(4,1.75)(4,1.7)(4,1.55)(4,1.4)(4,1.15)(4,1.1)(4,0.95)(4,0.85)(4,0.6)(4,0.55)(4,0.5)(4,0.05)(4,-0.2)(4,-0.25)(4,-0.66)
(5,2.05)(5,1.9)(5,1.7)(5,1.5)(5,1.4)(5,1.2)(5,1.1)(5,1.0)(5,0.8)(5,0.6)(5,0.4)(5,0.1)(5,-0.5)(5,-0.55)
(6,1.95)(6,1.6)(6,1.2)(6,1.1)(6,0.9)(6,0.7)(6,0.5)(6,0.3)(6,0.0)(6,-0.1)(6,-0.2)(6,-0.5)};
\addplot[pts, gggreen] coordinates {(1,3.9)(1,3.6)(1,2.98)(1,2.84)
(2,4.61)(2,3.9)(2,3.8)(2,3.5)(2,3.45)(2,3.4)(2,3.35)(2,3.1)(2,3.0)(2,2.55)(2,2.35)
(3,4.44)(3,4.2)(3,4.0)(3,3.75)(3,3.7)(3,3.45)(3,3.25)(3,3.15)(3,2.9)(3,2.7)(3,2.3)(3,2.2)
(4,4.94)(4,4.5)(4,4.1)(4,4.05)(4,3.8)(4,3.35)(4,3.3)(4,3.25)(4,3.2)(4,3.0)(4,2.75)(4,2.6)(4,2.4)(4,2.2)(4,2.1)
(5,4.77)(5,4.6)(5,4.3)(5,4.1)(5,4.02)(5,3.94)(5,3.86)(5,3.78)(5,3.7)(5,3.62)(5,3.54)(5,3.46)(5,3.38)(5,3.3)(5,3.22)(5,3.14)(5,3.06)(5,2.98)(5,2.9)(5,2.82)(5,2.74)(5,2.66)(5,2.58)(5,2.5)(5,2.4)(5,2.2)
(6,5.14)(6,4.65)(6,4.57)(6,4.49)(6,4.41)(6,4.33)(6,4.25)(6,4.17)(6,4.09)(6,4.01)(6,3.93)(6,3.85)(6,3.77)(6,3.69)(6,3.61)(6,3.53)(6,3.45)(6,3.37)(6,3.29)(6,3.21)(6,3.13)(6,3.05)(6,2.97)(6,2.89)(6,2.81)(6,2.73)(6,2.65)(6,2.57)(6,2.49)(6,2.41)(6,2.33)(6,2.25)(6,2.17)(6,2.09)(6,2.01)(6,1.95)(6,1.75)};
\addplot[pts, ggblue] coordinates {(1,1.72)(1,1.65)(1,0.96)(1,0.37)
(2,1.5)(2,1.3)(2,1.25)(2,1.05)(2,0.8)(2,0.4)(2,-0.15)(2,-1.0)
(3,2.2)(3,2.0)(3,1.85)(3,1.35)(3,1.25)(3,1.2)(3,0.8)(3,0.6)(3,0.5)(3,0.3)(3,-0.71)(3,-1.0)
(4,2.25)(4,2.1)(4,1.95)(4,1.7)(4,1.6)(4,1.5)(4,1.2)(4,1.0)(4,0.8)(4,0.7)(4,0.25)(4,0.15)(4,-0.4)(4,-0.55)(4,-1.0)
(5,2.4)(5,2.32)(5,2.24)(5,2.16)(5,2.08)(5,2.0)(5,1.92)(5,1.84)(5,1.76)(5,1.68)(5,1.6)(5,1.52)(5,1.44)(5,1.36)(5,1.28)(5,1.2)(5,1.12)(5,1.04)(5,0.96)(5,0.88)(5,0.8)(5,0.72)(5,0.64)(5,0.56)(5,0.48)(5,0.4)(5,0.32)(5,0.24)(5,0.16)(5,0.08)(5,0.0)(5,-0.08)(5,-0.16)(5,-0.24)(5,-0.32)(5,-0.4)(5,-0.48)(5,-0.65)(5,-0.75)(5,-1.0)
(6,2.35)(6,2.1)(6,1.9)(6,1.75)(6,1.67)(6,1.59)(6,1.51)(6,1.43)(6,1.35)(6,1.27)(6,1.19)(6,1.11)(6,1.03)(6,0.95)(6,0.87)(6,0.79)(6,0.71)(6,0.63)(6,0.55)(6,0.47)(6,0.39)(6,0.31)(6,0.23)(6,0.15)(6,0.07)(6,-0.01)(6,-0.09)(6,-0.17)(6,-0.25)(6,-0.33)(6,-0.41)(6,-0.49)(6,-0.55)(6,-0.75)(6,-1.0)};
\addplot[band] coordinates {(1,1.24)(2.25,1.05)(3.5,0.90)(4.75,0.79)(6,0.76)(6,0.56)(4.75,0.67)(3.5,0.70)(2.25,0.69)(1,0.64)} --cycle;
\addplot[band] coordinates {(1,3.79)(2.25,3.60)(3.5,3.455)(4.75,3.36)(6,3.32)(6,3.12)(4.75,3.22)(3.5,3.255)(2.25,3.24)(1,3.19)} --cycle;
\addplot[band] coordinates {(1,1.14)(2.25,0.94)(3.5,0.785)(4.75,0.68)(6,0.70)(6,0.44)(4.75,0.54)(3.5,0.525)(2.25,0.46)(1,0.34)} --cycle;
\addplot[ggred, line width=0.9pt, mark=none] coordinates {(1,0.94)(6,0.66)}; \addlegendentry{HOMER1}
\addplot[gggreen, line width=0.9pt, mark=none] coordinates {(1,3.49)(6,3.22)}; \addlegendentry{KCNN2}
\addplot[ggblue, line width=0.9pt, mark=none] coordinates {(1,0.74)(6,0.57)}; \addlegendentry{PSMB1}
\end{axis}
% ================= Panel 5: Hippocampus CDR =================
\begin{axis}[ggpanel, at={(237.3pt,141.3pt)}, width=165pt, height=109.8pt,
  xmin=-0.144, xmax=3.156, ymin=-1.30, ymax=5.39,
  xtick={0,1,2,3}, minor xtick={0.5,1.5,2.5}, ytick={0,2,4}, minor ytick={-1,1,3,5},
  legend style={at={(1.020,0.530)}}]
\addplot[pts, ggred] coordinates {(0,1.95)(0,1.59)(0,1.35)(0,1.3)(0,1.2)(0,1.1)(0,0.81)(0,0.27)(0,-0.03)
(0.5,1.8)(0.5,1.55)(0.5,1.15)(0.5,0.5)(0.5,0.4)
(1,1.85)(1,1.5)(1,0.95)(1,0.9)(1,0.45)(1,0.3)
(2,1.7)(2,1.65)(2,1.15)(2,1.1)(2,1.05)(2,0.35)(2,-0.55)
(3,1.8)(3,1.6)(3,1.4)(3,1.2)(3,1.0)(3,0.8)(3,0.6)(3,0.4)(3,0.2)(3,-0.5)};
\addplot[pts, gggreen] coordinates {(0,4.62)(0,3.9)(0,3.6)(0,3.55)(0,3.5)(0,3.17)(0,2.97)(0,2.85)(0,2.55)(0,2.3)
(0.5,4.2)(0.5,3.84)(0.5,2.8)(0.5,2.75)(0.5,2.5)(0.5,2.4)
(1,4.1)(1,4.0)(1,3.9)(1,3.65)(1,3.45)(1,3.4)(1,3.25)(1,3.1)(1,3.05)(1,3.0)
(2,4.77)(2,4.6)(2,4.4)(2,4.05)(2,3.75)(2,3.7)(2,3.6)(2,3.55)(2,3.25)(2,3.2)(2,2.8)(2,2.55)
(3,5.14)(3,4.95)(3,4.6)(3,4.55)(3,4.4)(3,4.3)(3,4.1)(3,4.0)(3,3.9)(3,3.8)(3,3.7)(3,3.62)(3,3.54)(3,3.46)(3,3.38)(3,3.3)(3,3.22)(3,3.14)(3,3.06)(3,2.98)(3,2.9)(3,2.82)(3,2.74)(3,2.66)(3,2.58)(3,2.5)(3,2.42)(3,2.34)(3,2.1)(3,1.85)};
\addplot[pts, ggblue] coordinates {(0,1.7)(0,1.65)(0,1.35)(0,1.05)(0,0.95)(0,0.55)(0,0.3)(0,-0.12)(0,-0.99)
(0.5,1.95)(0.5,1.9)(0.5,1.75)(0.5,0.75)(0.5,-0.07)(0.5,-1.0)
(1,1.9)(1,1.85)(1,1.65)(1,1.25)(1,1.2)(1,0.8)(1,0.75)(1,-0.7)(1,-1.0)
(2,2.45)(2,2.1)(2,1.8)(2,1.6)(2,1.5)(2,1.4)(2,1.2)(2,1.05)(2,0.85)(2,0.5)(2,0.3)(2,-0.35)
(3,2.1)(3,1.9)(3,1.82)(3,1.74)(3,1.66)(3,1.58)(3,1.5)(3,1.42)(3,1.34)(3,1.26)(3,1.18)(3,1.1)(3,1.02)(3,0.94)(3,0.86)(3,0.78)(3,0.7)(3,0.62)(3,0.54)(3,0.46)(3,0.38)(3,0.3)(3,0.22)(3,0.14)(3,0.06)(3,-0.02)(3,-0.1)(3,-0.18)(3,-0.26)(3,-0.34)(3,-0.42)(3,-0.5)(3,-0.58)(3,-0.75)(3,-1.0)};
\addplot[band] coordinates {(0,1.33)(0.75,1.125)(1.5,0.96)(2.25,0.835)(3,0.84)(3,0.50)(2.25,0.675)(1.5,0.72)(0.75,0.725)(0,0.69)} --cycle;
\addplot[band] coordinates {(0,3.72)(0.75,3.59)(1.5,3.485)(2.25,3.42)(3,3.46)(3,3.18)(2.25,3.26)(1.5,3.245)(0.75,3.19)(0,3.10)} --cycle;
\addplot[band] coordinates {(0,1.19)(0.75,1.035)(1.5,0.90)(2.25,0.805)(3,0.76)(3,0.56)(2.25,0.665)(1.5,0.72)(0.75,0.735)(0,0.73)} --cycle;
\addplot[ggred, line width=0.9pt, mark=none] coordinates {(0,1.01)(3,0.67)}; \addlegendentry{HOMER1}
\addplot[gggreen, line width=0.9pt, mark=none] coordinates {(0,3.41)(3,3.32)}; \addlegendentry{KCNN2}
\addplot[ggblue, line width=0.9pt, mark=none] coordinates {(0,0.96)(3,0.66)}; \addlegendentry{PSMB1}
\end{axis}
% ================= Panel 6: Hippocampus Plaque =================
\begin{axis}[ggpanel, at={(445.2pt,141.6pt)}, width=152.4pt, height=109.8pt,
  xmin=0.857, xmax=4.149, ymin=-1.35, ymax=6.75,
  xtick={1,2,3,4}, minor xtick={1.5,2.5,3.5}, ytick={0,2,4,6}, minor ytick={-1,1,3,5},
  legend style={at={(1.018,0.527)}}]
\addplot[pts, ggred] coordinates {(1,2.12)(1,2.05)(1,1.9)(1,1.7)(1,1.5)(1,1.3)(1,1.1)(1,0.9)(1,0.7)(1,0.5)(1,0.3)(1,0.1)(1,-0.1)(1,-0.3)(1,-0.5)(1,-0.61)(1,-0.7)
(2,2.0)(2,1.85)(2,1.8)(2,1.6)(2,1.4)(2,1.3)(2,1.15)(2,0.9)(2,0.6)(2,0.25)(2,0.1)(2,0.0)(2,-0.15)
(3,1.85)(3,1.55)(3,1.2)(3,1.0)(3,0.6)(3,0.5)(3,0.45)
(4,1.95)(4,1.6)(4,1.55)(4,1.25)(4,1.1)(4,1.0)(4,0.8)(4,0.5)(4,0.25)};
\addplot[pts, gggreen] coordinates {(1,3.16)(1,2.1)(1,2.02)(1,1.94)(1,1.86)(1,1.78)(1,1.7)(1,1.62)(1,1.54)(1,1.46)(1,1.38)(1,1.3)(1,1.22)(1,1.14)(1,1.06)(1,0.98)(1,0.9)(1,0.82)(1,0.74)(1,0.66)(1,0.58)(1,0.5)(1,0.42)(1,0.34)(1,0.26)(1,0.18)(1,0.1)(1,0.02)(1,-0.06)(1,-0.14)(1,-0.22)(1,-0.3)(1,-0.38)(1,-0.46)(1,-0.54)(1,-0.62)(1,-0.7)(1,-0.78)(1,-1.0)
(2,2.4)(2,2.35)(2,2.25)(2,2.15)(2,1.8)(2,1.75)(2,1.7)(2,1.5)(2,1.3)(2,1.2)(2,1.1)(2,1.0)(2,0.85)(2,0.75)(2,0.5)(2,0.35)(2,0.3)(2,0.1)(2,-0.05)(2,-0.35)(2,-0.55)(2,-1.0)
(3,2.45)(3,2.0)(3,1.35)(3,1.3)(3,1.15)(3,0.9)(3,0.8)(3,0.05)(3,-0.05)(3,-0.1)(3,-0.72)(3,-1.0)
(4,1.65)(4,1.5)(4,1.3)(4,1.2)(4,1.05)(4,0.95)(4,0.4)(4,0.35)(4,0.3)(4,-0.15)(4,-1.0)};
\addplot[pts, ggblue] coordinates {(1,6.43)(1,5.95)(1,5.9)(1,5.75)(1,5.5)(1,5.45)(1,5.4)(1,5.35)(1,5.15)(1,5.07)(1,4.99)(1,4.91)(1,4.83)(1,4.75)(1,4.67)(1,4.59)(1,4.51)(1,4.43)(1,4.35)(1,4.27)(1,4.19)(1,4.11)(1,4.03)(1,3.95)(1,3.87)(1,3.79)(1,3.71)(1,3.63)(1,3.55)(1,3.47)(1,3.39)(1,3.31)(1,3.23)(1,3.15)(1,3.07)(1,2.99)(1,2.91)(1,2.85)(1,2.7)(1,2.6)(1,2.39)
(2,6.19)(2,5.9)(2,5.75)(2,5.1)(2,5.0)(2,4.95)(2,4.85)(2,4.5)(2,4.45)(2,4.35)(2,4.3)(2,4.2)(2,4.1)(2,4.05)(2,3.95)(2,3.75)(2,3.65)(2,3.3)(2,3.1)(2,2.5)
(3,5.46)(3,5.25)(3,5.05)(3,4.85)(3,4.55)(3,4.5)(3,4.4)(3,4.35)(3,4.12)(3,3.75)(3,3.5)(3,3.1)
(4,6.0)(4,5.35)(4,4.85)(4,4.8)(4,4.4)(4,4.0)(4,3.75)(4,3.65)(4,3.6)(4,3.27)};
\addplot[band] coordinates {(1,0.76)(1.75,0.82)(2.5,0.93)(3.25,1.08)(4,1.26)(4,0.72)(3.25,0.74)(2.5,0.73)(1.75,0.68)(1,0.58)} --cycle;
\addplot[band] coordinates {(1,0.68)(1.75,0.70)(2.5,0.785)(3.25,0.93)(4,1.13)(4,0.37)(3.25,0.49)(2.5,0.545)(1.75,0.54)(1,0.48)} --cycle;
\addplot[band] coordinates {(1,4.31)(1.75,4.36)(2.5,4.47)(3.25,4.63)(4,4.86)(4,4.18)(3.25,4.25)(2.5,4.27)(1.75,4.22)(1,4.11)} --cycle;
\addplot[ggred, line width=0.9pt, mark=none] coordinates {(1,0.67)(4,0.99)}; \addlegendentry{HOMER1}
\addplot[gggreen, line width=0.9pt, mark=none] coordinates {(1,0.58)(4,0.75)}; \addlegendentry{PSMB1}
\addplot[ggblue, line width=0.9pt, mark=none] coordinates {(1,4.21)(4,4.52)}; \addlegendentry{RIMS1}
\end{axis}
\end{tikzpicture}
\end{document}
